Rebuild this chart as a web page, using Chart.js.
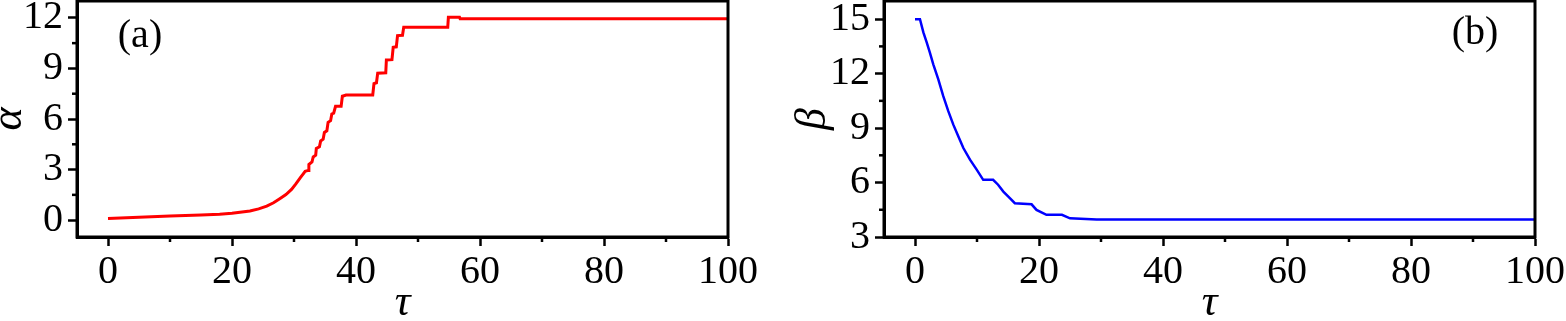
<!DOCTYPE html>
<html>
<head>
<meta charset="utf-8">
<script src="https://cdn.jsdelivr.net/npm/chart.js@4.4.1/dist/chart.umd.min.js"></script>
<style>
  html, body { margin:0; padding:0; background:#fff; }
  #wrap { position:relative; width:1566px; height:321px; overflow:hidden; }
  #c1 { position:absolute; left:0; top:0; }
  #c2 { position:absolute; left:780px; top:0; }
</style>
</head>
<body>
<div id="wrap">
  <canvas id="c1" width="780" height="321"></canvas>
  <canvas id="c2" width="786" height="321"></canvas>
</div>
<script>
// ---- data ----
const tauA = [0, 5, 10, 15, 18, 20, 22.9, 24.3, 25.6, 26.7, 27.7, 28.7, 29.6, 30.3, 31.0, 31.8, 32.3, 32.4, 32.9, 33.1, 33.5, 33.6, 34.1, 34.3, 34.7, 34.9, 35.3, 35.5, 35.9, 36.1, 36.4, 36.7, 37.6, 37.8, 38.4, 42.7, 42.9, 43.3, 43.5, 44.8, 44.9, 45.8, 46.0, 46.5, 46.7, 47.5, 47.7, 54.8, 54.9, 56.7, 56.8, 100];
const alpha = [0.10, 0.17, 0.24, 0.30, 0.35, 0.41, 0.54, 0.67, 0.83, 1.03, 1.27, 1.52, 1.82, 2.15, 2.51, 2.9, 2.95, 3.3, 3.45, 3.75, 3.85, 4.25, 4.35, 4.7, 4.8, 5.2, 5.3, 5.8, 5.9, 6.3, 6.35, 6.75, 6.75, 7.35, 7.42, 7.43, 8.1, 8.15, 8.72, 8.74, 9.5, 9.52, 10.25, 10.28, 10.95, 10.97, 11.45, 11.45, 12.03, 12.03, 11.94, 11.94];

const tauB = [0, 0.8, 1.35, 1.9, 2.4, 2.95, 3.76, 4.56, 5.37, 6.18, 6.98, 7.8, 8.87, 9.95, 11.0, 12.6, 13.4, 14.25, 15.3, 16.1, 18.8, 19.6, 21.2, 23.7, 25.0, 29.3, 100];
const beta = [15.0, 15.0, 14.27, 13.71, 13.16, 12.51, 11.68, 10.76, 9.93, 9.19, 8.55, 7.9, 7.26, 6.71, 6.15, 6.15, 5.88, 5.5, 5.14, 4.86, 4.8, 4.49, 4.22, 4.22, 4.03, 3.96, 3.96];

const xTicks = [0, 20, 40, 60, 80, 100];
const alphaTicks = [0, 3, 6, 9, 12];
const betaTicks = [3, 6, 9, 12, 15];

// ---- styling ----
const FAM = "'Liberation Serif', 'Times New Roman', Times, serif";
const tickFont = { family: FAM, size: 40, lineHeight: 1.2 };
const titleFont = { family: FAM, size: 44, style: 'italic', lineHeight: 1 };

const framePlugin = {
  id: 'frame',
  afterDraw(chart, args, opts) {
    const ctx = chart.ctx, a = chart.chartArea;
    ctx.save();
    ctx.strokeStyle = '#000';
    ctx.lineWidth = 2.5;
    ['x', 'y'].forEach(id => {
      const s = chart.scales[id];
      const t = s.ticks.map(k => k.value);
      for (let i = 0; i < t.length - 1; i++) {
        const m = (t[i] + t[i + 1]) / 2;
        const p = s.getPixelForValue(m);
        ctx.beginPath();
        if (id === 'x') { ctx.moveTo(p, a.bottom); ctx.lineTo(p, a.bottom + 5); }
        else { ctx.moveTo(a.left, p); ctx.lineTo(a.left - 5, p); }
        ctx.stroke();
      }
    });
    ctx.lineWidth = 3;
    ctx.strokeRect(a.left, a.top, a.right - a.left, a.bottom - a.top);
    ctx.fillStyle = '#000';
    ctx.font = "40px " + FAM;
    ctx.textAlign = 'center';
    ctx.textBaseline = 'middle';
    ctx.fillText(opts.text, opts.x, opts.y);
    ctx.restore();
  }
};

function makeChart(el, xs, ys, color, lw, yTicks, ymin, ymax, yTitle, yWidth, padRight, yTitlePad, label) {
  return new Chart(el, {
    type: 'line',
    data: { datasets: [{ data: xs.map((t, i) => ({ x: t, y: ys[i] })), borderColor: color, borderWidth: lw, pointRadius: 0, tension: 0, fill: false }] },
    options: {
      responsive: false, animation: false, events: [],
      layout: { padding: { top: 1, right: padRight, left: 0, bottom: 0 } },
      plugins: { legend: { display: false }, tooltip: { enabled: false }, frame: label },
      scales: {
        x: {
          type: 'linear', min: -5, max: 100,
          afterFit(s) { s.height = 84; s.paddingLeft = 0; s.paddingRight = 0; },
          afterBuildTicks(s) { s.ticks = xTicks.map(v => ({ value: v })); },
          ticks: { font: tickFont, color: '#000', padding: 2, maxRotation: 0, autoSkip: false, includeBounds: false },
          grid: { drawOnChartArea: false, drawTicks: true, tickLength: 9, tickWidth: 2.5, tickColor: '#000' },
          border: { color: '#000', width: 3 },
          title: { display: true, text: 'τ', font: titleFont, color: '#000', padding: { top: 0, bottom: -4.5 } }
        },
        y: {
          type: 'linear', min: ymin, max: ymax,
          afterFit(s) { s.width = yWidth; s.paddingTop = 0; s.paddingBottom = 0; },
          afterBuildTicks(s) { s.ticks = yTicks.map(v => ({ value: v })); },
          ticks: { font: tickFont, color: '#000', padding: 5, autoSkip: false, includeBounds: false },
          grid: { drawOnChartArea: false, drawTicks: true, tickLength: 9, tickWidth: 2.5, tickColor: '#000' },
          border: { color: '#000', width: 3 },
          title: { display: true, text: yTitle, font: titleFont, color: '#000', padding: { top: yTitlePad, bottom: 0 } }
        }
      }
    },
    plugins: [framePlugin]
  });
}

makeChart(document.getElementById('c1'), tauA, alpha, '#ff0000', 3, alphaTicks, -1, 13, 'α', 77, 52, -13, { text: '(a)', x: 140, y: 36.5 });
makeChart(document.getElementById('c2'), tauB, beta, '#0000ff', 2.5, betaTicks, 3, 16, 'β', 104, 31, 11.5, { text: '(b)', x: 695, y: 33.5 });
</script>
</body>
</html>
